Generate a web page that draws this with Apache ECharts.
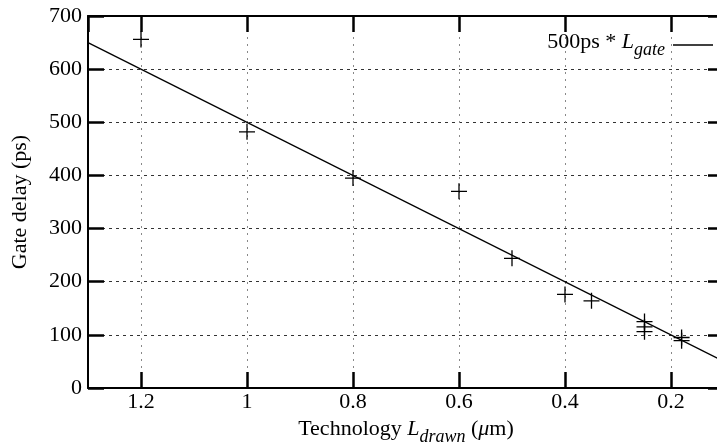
<!DOCTYPE html>
<html><head><meta charset="utf-8">
<script src="https://cdn.jsdelivr.net/npm/echarts@6/dist/echarts.min.js"></script>
<style>html,body{margin:0;padding:0;background:#fff}#c{width:717px;height:445px}</style>
</head><body><div id="c"></div>
<script>
// Measured points: technology (um) vs gate delay (ps)
const techL = [1.2, 1.0, 0.8, 0.6, 0.5, 0.4, 0.35, 0.25, 0.25, 0.25, 0.18, 0.18];
const gateDelay = [656, 482, 395, 370, 244, 176, 164, 125, 115, 106, 95, 89];
// Reference line 500ps * Lgate (end points)
const fitL = [1.3, 0.1];
const fitDelay = [650, 50];
const xRange = [0.1, 1.3];
const yRange = [0, 700];
const yStep = 100;

const F = 'Liberation Serif';
const richBase = {
  n: {fontFamily: F, fontSize: 22, color: '#000', lineHeight: 22, verticalAlign: 'top'},
  i: {fontFamily: F, fontSize: 22, color: '#000', fontStyle: 'italic', lineHeight: 22, verticalAlign: 'top'},
  s: {fontFamily: F, fontSize: 18, color: '#000', fontStyle: 'italic', lineHeight: 28, verticalAlign: 'bottom'}
};
const legendRich = JSON.parse(JSON.stringify(richBase));
legendRich.s.padding = [0, 3, 0, 0];

const chart = echarts.init(document.getElementById('c'), null, {renderer: 'canvas'});
const axisLine = {show: true, onZero: false, lineStyle: {color: '#000', width: 2}};
const axisTick = {show: true, inside: true, length: 16, lineStyle: {color: '#000', width: 2.5}};

chart.setOption({
  animation: false,
  backgroundColor: '#fff',
  grid: {left: 88, width: 636, top: 16, height: 372, containLabel: false, outerBoundsMode: 'none'},
  legend: {
    show: true, right: 4, top: 31, padding: 0, align: 'right',
    icon: 'rect', itemWidth: 40, itemHeight: 1.3,
    data: ['500ps * Lgate'],
    formatter: () => '{n|500ps * }{i|L}{s|gate}',
    textStyle: {rich: legendRich},
    selectedMode: false
  },
  xAxis: [
    {
      type: 'value', position: 'bottom', min: xRange[0], max: xRange[1], inverse: true,
      axisLine, axisTick,
      axisLabel: {fontFamily: F, fontSize: 22, color: '#000', margin: 3, showMinLabel: false, showMaxLabel: false},
      splitLine: {show: true, lineStyle: {color: '#888', width: 1, type: [2, 5]}},
      name: '{n|Technology }{i|L}{s|drawn}{n| (}{i|μ}{n|m)}',
      nameLocation: 'middle', nameGap: 25,
      nameTextStyle: {rich: richBase}
    },
    {
      type: 'value', position: 'top', min: xRange[0], max: xRange[1], inverse: true,
      axisLine, axisTick, axisLabel: {show: false}, splitLine: {show: false}
    }
  ],
  yAxis: [
    {
      type: 'value', position: 'left', min: yRange[0], max: yRange[1], interval: yStep,
      axisLine, axisTick,
      axisLabel: {fontFamily: F, fontSize: 22, color: '#000', margin: 6},
      splitLine: {show: true, lineStyle: {color: '#333', width: 1, type: [3, 4]}},
      name: 'Gate delay (ps)', nameLocation: 'middle', nameGap: 57, nameRotate: 90,
      nameTextStyle: {fontFamily: F, fontSize: 22, color: '#000'}
    },
    {
      type: 'value', position: 'right', min: yRange[0], max: yRange[1], interval: yStep,
      axisLine, axisTick, axisLabel: {show: false}, splitLine: {show: false}
    }
  ],
  series: [
    {
      name: '500ps * Lgate', type: 'line', xAxisIndex: 0, yAxisIndex: 0,
      data: fitL.map((x, k) => [x, fitDelay[k]]),
      symbol: 'none', showSymbol: false, clip: true,
      lineStyle: {color: '#000', width: 1.3}, itemStyle: {color: '#000'},
      emphasis: {disabled: true}, silent: true
    },
    {
      name: 'data', type: 'scatter', xAxisIndex: 0, yAxisIndex: 0,
      data: techL.map((x, k) => [x, gateDelay[k]]),
      symbol: 'path://M0,8 L16,8 M8,0 L8,16', symbolSize: 16,
      itemStyle: {color: 'none', borderColor: '#000', borderWidth: 1.3, opacity: 1},
      emphasis: {disabled: true}, silent: true
    }
  ]
});
</script>
</body></html>
